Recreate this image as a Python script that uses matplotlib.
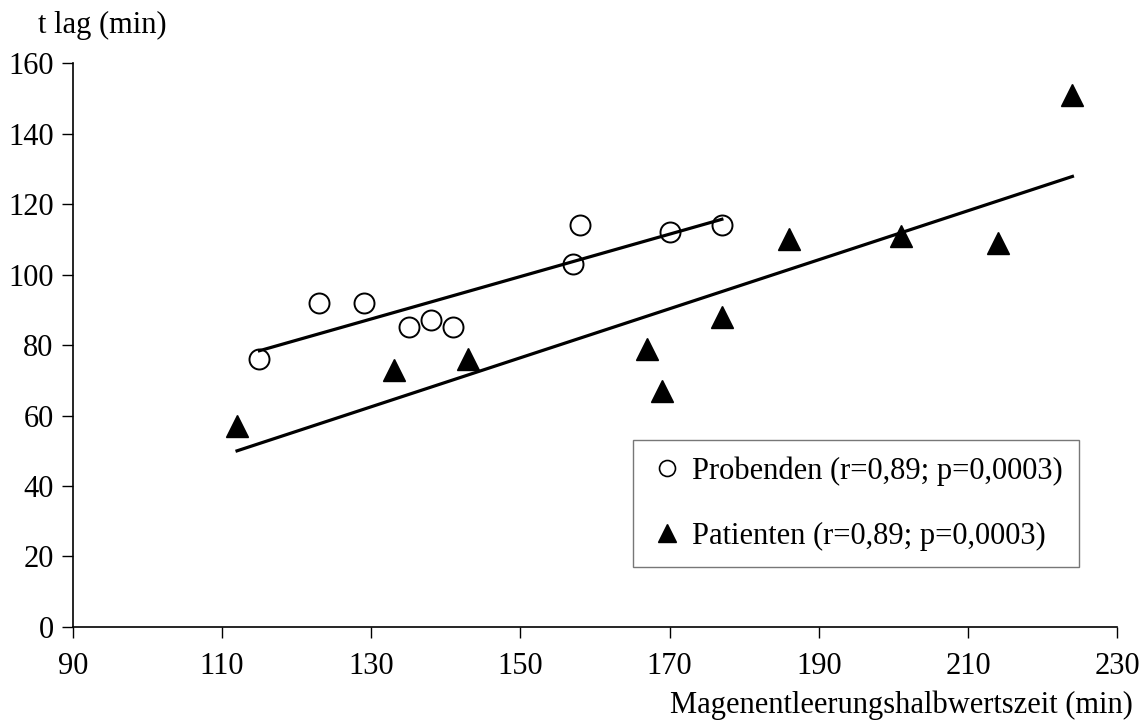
import numpy as np
import matplotlib
matplotlib.use("Agg")
import matplotlib.pyplot as plt
from matplotlib.lines import Line2D

plt.rcParams['font.family'] = ['Liberation Serif', 'DejaVu Serif']

# Probenden (open circles)
prob_x = [115, 123, 129, 135, 138, 141, 157, 158, 170, 177]
prob_y = [76, 92, 92, 85, 87, 85, 103, 114, 112, 114]
# Patienten (filled triangles)
pat_x = [112, 133, 143, 167, 169, 177, 186, 201, 214, 224]
pat_y = [57, 73, 76, 79, 67, 88, 110, 111, 109, 151]

x_ticks = [90, 110, 130, 150, 170, 190, 210, 230]
y_ticks = [0, 20, 40, 60, 80, 100, 120, 140, 160]
label_prob = "Probenden (r=0,89; p=0,0003)"
label_pat = "Patienten (r=0,89; p=0,0003)"

fig = plt.figure(figsize=(11.47, 7.22), dpi=100)
ax = fig.add_axes([0.0636, 0.1316, 0.9104, 0.7811])

ax.plot(prob_x, prob_y, linestyle='none', marker='o', markersize=14.4,
        markerfacecolor='white', markeredgecolor='black', markeredgewidth=1.4, zorder=2)
ax.plot(pat_x, pat_y, linestyle='none', marker='^', markersize=15.5,
        markerfacecolor='black', markeredgecolor='black', zorder=2)

for xs, ys in [(prob_x, prob_y), (pat_x, pat_y)]:
    k, d = np.polyfit(xs, ys, 1)
    xr = np.array([min(xs), max(xs)])
    ax.plot(xr, k * xr + d, color='black', linewidth=2.3, zorder=3)

ax.set_xlim(90, 230)
ax.set_ylim(0, 160)
ax.set_xticks(x_ticks)
ax.set_yticks(y_ticks)
ax.spines['top'].set_visible(False)
ax.spines['right'].set_visible(False)
for s in ['left', 'bottom']:
    ax.spines[s].set_linewidth(1.2)
ax.tick_params(axis='both', direction='out', length=8, width=1.0, labelsize=22, pad=10)
ax.tick_params(axis='y', pad=6)

ax.text(-0.0335, 1.04, "t lag (min)", transform=ax.transAxes, fontsize=22,
        ha='left', va='bottom')
ax.text(1.015, -0.138, "Magenentleerungshalbwertszeit (min)", transform=ax.transAxes,
        fontsize=22, ha='right', va='center')

handles = [
    Line2D([], [], linestyle='none', marker='o', markersize=11.5,
           markerfacecolor='white', markeredgecolor='black', markeredgewidth=1.2),
    Line2D([], [], linestyle='none', marker='^', markersize=13.5,
           markerfacecolor='black', markeredgecolor='black'),
]
leg = ax.legend(handles, [label_prob, label_pat], loc='lower left',
                bbox_to_anchor=(0.536, 0.106), fontsize=22, frameon=True,
                fancybox=False, handlelength=1.2, handletextpad=0.2,
                labelspacing=1.18, borderpad=0.54, borderaxespad=0)
leg.get_frame().set_edgecolor('#555555')
leg.get_frame().set_linewidth(1.0)

fig.savefig("out.png", dpi=100)
